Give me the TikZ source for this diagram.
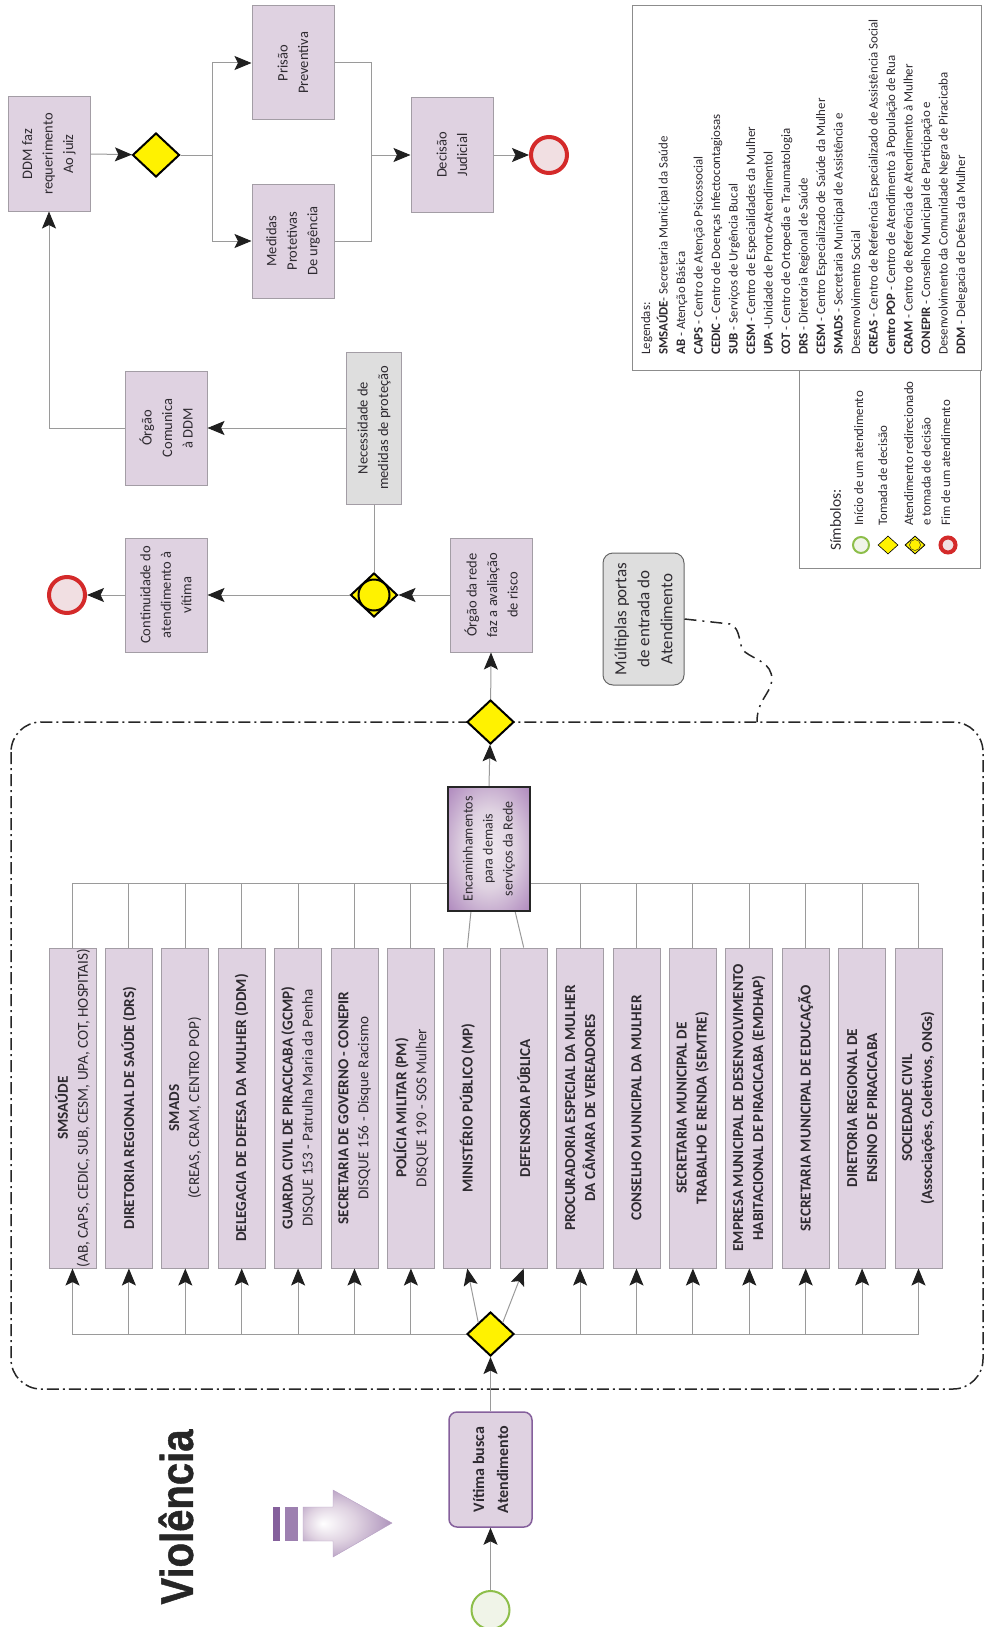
\documentclass[tikz,border=0pt]{standalone}
\usepackage{fontspec}
\setmainfont{Carlito}
\newfontfamily\titlefont[FakeStretch=0.87,FakeBold=1]{Liberation Sans Bold}
\usetikzlibrary{arrows.meta, shapes.geometric}
\definecolor{boxfill}{HTML}{DFD2E1}
\definecolor{boxline}{HTML}{A39DA5}
\definecolor{connline}{HTML}{9A9A9A}
\definecolor{greybox}{HTML}{DEDEDE}
\definecolor{darkpurple}{HTML}{85609C}
\definecolor{inktext}{HTML}{2E2A30}
\definecolor{endred}{HTML}{D42A2A}
\definecolor{endfill}{HTML}{F1DFE2}
\definecolor{startgreen}{HTML}{8DBE4A}
\definecolor{startfill}{HTML}{F0F4E8}
\definecolor{enclight}{HTML}{F0EAF0}
\definecolor{encmid}{HTML}{AD86BC}
\pgfdeclareradialshading{encshade}{\pgfpoint{0bp}{0bp}}{color(0bp)=(enclight); color(16bp)=(boxfill); color(36bp)=(encmid); color(52bp)=(darkpurple)}
\pgfdeclareradialshading{blockshade}{\pgfpoint{-14bp}{0bp}}{color(0bp)=(white); color(14bp)=(boxfill); color(42bp)=(darkpurple)}
\tikzset{
x=1pt, y=-1pt,
conn/.style={draw=connline, line width=1pt}, % plain connector
arrow/.style={conn, ->, >={Stealth[length=17pt,width=14pt,inset=3.5pt,color=black!88]}}, % big dark arrow heads
procbox/.style={draw=boxline, fill=boxfill, line width=1pt, rotate=90, align=center, text=inktext, minimum width=114pt, minimum height=82pt, inner sep=0pt, font=\fontsize{14.5}{20.5}\selectfont},
servbox/.style={procbox, minimum width=320pt, minimum height=47pt, font=\fontsize{15.2}{20}\selectfont},
decision/.style={diamond, draw=black, fill=yellow, line width=2pt, minimum width=47pt, minimum height=44pt, inner sep=0pt},
endstate/.style={circle, draw=endred, fill=endfill, line width=4pt, minimum size=36pt, inner sep=0pt},
startstate/.style={circle, draw=startgreen, fill=startfill, line width=2pt, minimum size=38pt, inner sep=0pt},
panel/.style={draw=black!45, fill=white, line width=1pt, inner sep=0pt},
legtext/.style={rotate=90, inner sep=0pt, align=left, text=inktext, anchor=north west, font=\fontsize{12.9}{17.5}\selectfont},
}
\begin{document}
\begin{tikzpicture}
    \useasboundingbox (0,0) rectangle (984,1627);
    % network frame
    \draw[black!85, line width=1.5pt, dash pattern=on 12pt off 4pt on 2pt off 4pt, rounded corners=30pt] (11,722) rectangle (983,1389);
    \coordinate (frametop) at (757,722);

    % right column with the two key panels
    \node[panel, minimum width=349pt, minimum height=365pt] (legbox) at (806.5,188) {};
    \node[panel, minimum width=181pt, minimum height=198pt] (simbbox) at (889.5,469) {};
    \node[legtext] (legenda) at (641,355) {Legendas:\\
    \textbf{SMSAÚDE}- Secretaria Municipal da Saúde\\
    \textbf{AB} - Atenção Básica\\
    \textbf{CAPS} - Centro de Atenção Psicossocial\\
    \textbf{CEDIC} - Centro de Doenças Infectocontagiosas\\
    \textbf{SUB} - Serviços de Urgência Bucal\\
    \textbf{CESM} - Centro de Especialidades da Mulher\\
    \textbf{UPA} -Unidade de Pronto-Atendimentol\\
    \textbf{COT} - Centro de Ortopedia e Traumatologia\\
    \textbf{DRS} - Diretoria Regional de Saúde\\
    \textbf{CESM} - Centro Especializado de Saúde da Mulher\\
    \textbf{SMADS} - Secretaria Municipal de Assistência e\\
    Desenvolvimento Social\\
    \textbf{CREAS} - Centro de Referência Especializado de Assistência Social\\
    \textbf{Centro POP} - Centro de Atendimento à População de Rua\\
    \textbf{CRAM} - Centro de Referência de Atendimento à Mulher\\
    \textbf{CONEPIR} - Conselho Municipal de Participação e\\
    Desenvolvimento da Comunidade Negra de Piracicaba\\
    \textbf{DDM} - Delegacia de Defesa da Mulher};
    \node[legtext, font=\fontsize{15.5}{17.5}\selectfont] (simbtitle) at (830,551) {Símbolos:};
    \node[legtext] (simbinicio) at (854,526) {Início de um atendimento};
    \node[legtext] (simbtomada) at (878,526) {Tomada de decisão};
    \node[legtext] (simbredir) at (904,526) {Atendimento redirecionado\\e tomada de decisão};
    \node[legtext] (simbfim) at (941,526) {Fim de um atendimento};
    \node[startstate, minimum size=16pt] (keystart) at (861,545) {};
    \node[decision, line width=.6pt, minimum width=20pt, minimum height=18pt] (keydec) at (888,545) {};
    \node[decision, line width=.8pt, minimum width=20pt, minimum height=18pt] (keyredir) at (915,545) {};
    \node[circle, draw=black!80, fill=yellow, line width=.5pt, minimum size=11pt, inner sep=0pt] (keyredirc) at (915,545) {};
    \node[endstate, minimum size=15pt] (keyfim) at (948,545) {};

    % upper branch
    \node[procbox] (ddm) at (49,154) {DDM faz\\requerimento\\Ao juiz};
    \node[decision] (dtop) at (156,155) {};
    \node[procbox] (prisao) at (293,63) {Prisão\\Preventiva};
    \node[procbox] (medidas) at (293,241) {Medidas\\Protetivas\\De urgência};
    \node[procbox] (decisao) at (452,155) {Decisão\\Judicial};
    \node[endstate] (fimtop) at (549,155) {};
    \coordinate (dsplit) at (212,155);
    \coordinate (dmerge) at (371,155);
    \draw[arrow] (ddm.south) -- (dtop);
    \draw[conn] (dtop) -- (dsplit);
    \draw[arrow] (dsplit) |- (prisao.north);
    \draw[arrow] (dsplit) |- (medidas.north);
    \draw[conn] (prisao.south) -| (dmerge);
    \draw[conn] (medidas.south) -| (dmerge);
    \draw[arrow] (dmerge) -- (decisao.north);
    \draw[arrow] (decisao.south) -- (fimtop);

    % risk assessment
    \node[procbox] (orgao) at (166,428) {Órgão\\Comunica\\à DDM};
    \node[procbox, fill=greybox, minimum width=152pt, minimum height=55pt] (necess) at (374,428) {Necessidade de\\medidas de proteção};
    \node[procbox] (contin) at (166,595) {Continuidade do\\atendimento à\\vítima};
    \node[procbox] (rede) at (491,595) {Órgão da rede\\faz a avaliação\\de risco};
    \node[decision] (dredir) at (374,595) {};
    \node[circle, draw=black, fill=yellow, line width=2pt, minimum size=31pt, inner sep=0pt] (dredirc) at (374,595) {};
    \node[endstate] (fimcont) at (67,595) {};
    \node[procbox, fill=greybox, rounded corners=10pt, draw=black!60, minimum width=132pt, minimum height=81pt, font=\fontsize{17}{23}\selectfont] (multi) at (643.5,619) {Múltiplas portas\\de entrada do\\Atendimento};
    \node[decision] (dsaida) at (490.5,722) {};
    \draw[arrow] (orgao.north) -| (ddm.west);
    \draw[arrow] (necess.north) -- (orgao.south);
    \draw[conn] (necess.west) -- (dredir);
    \draw[arrow] (rede.north) -- (dredir);
    \draw[arrow] (dredir) -- (contin.south);
    \draw[arrow] (contin.north) -- (fimcont);
    \draw[arrow] (dsaida) -- (rede.west);
    \draw[black!85, line width=1.5pt, dash pattern=on 12pt off 6pt on 2pt off 6pt] (multi.south) -- (730,624) .. controls (742,628) and (738,648) .. (745,652) .. controls (755,660) and (772,662) .. (772,680) .. controls (770,695) and (757,700) .. (frametop);

    % entry point
    \node[startstate] (inicio) at (490.5,1610) {};
    \node[procbox, draw=darkpurple, line width=1.5pt, rounded corners=8pt, minimum width=115pt, minimum height=83pt, font=\bfseries\fontsize{16}{24}\selectfont] (vitima) at (490.5,1469.5) {Vítima busca\\Atendimento};
    \node[decision] (dporta) at (490.5,1334) {};
    \draw[arrow] (inicio) -- (vitima.west);
    \draw[arrow] (vitima.east) -- (dporta);

    % services of the network
    \node[servbox] (sb1) at (72.5,1108) {\textbf{SMSAÚDE}\\(AB, CAPS, CEDIC, SUB, CESM, UPA, COT, HOSPITAIS)};
    \node[servbox] (sb2) at (128.9,1108) {\textbf{DIRETORIA REGIONAL DE SAÚDE (DRS)}};
    \node[servbox] (sb3) at (185.3,1108) {\textbf{SMADS}\\(CREAS, CRAM, CENTRO POP)};
    \node[servbox] (sb4) at (241.7,1108) {\textbf{DELEGACIA DE DEFESA DA MULHER (DDM)}};
    \node[servbox] (sb5) at (298.1,1108) {\textbf{GUARDA CIVIL DE PIRACICABA (GCMP)}\\DISQUE 153 - Patrulha Maria da Penha};
    \node[servbox] (sb6) at (354.5,1108) {\textbf{SECRETARIA DE GOVERNO - CONEPIR}\\DISQUE 156 - Disque Racismo};
    \node[servbox] (sb7) at (410.9,1108) {\textbf{POLÍCIA MILITAR (PM)}\\DISQUE 190 - SOS Mulher};
    \node[servbox] (sb8) at (467.3,1108) {\textbf{MINISTÉRIO PÚBLICO (MP)}};
    \node[servbox] (sb9) at (523.7,1108) {\textbf{DEFENSORIA PÚBLICA}};
    \node[servbox] (sb10) at (580.1,1108) {\textbf{PROCURADORIA ESPECIAL DA MULHER}\\\textbf{DA CÂMARA DE VEREADORES}};
    \node[servbox] (sb11) at (636.5,1108) {\textbf{CONSELHO MUNICIPAL DA MULHER}};
    \node[servbox] (sb12) at (692.9,1108) {\textbf{SECRETARIA MUNICIPAL DE}\\\textbf{TRABALHO E RENDA (SEMTRE)}};
    \node[servbox] (sb13) at (749.3,1108) {\textbf{EMPRESA MUNICIPAL DE DESENVOLVIMENTO}\\\textbf{HABITACIONAL DE PIRACICABA (EMDHAP)}};
    \node[servbox] (sb14) at (805.7,1108) {\textbf{SECRETARIA MUNICIPAL DE EDUCAÇÃO}};
    \node[servbox] (sb15) at (862.1,1108) {\textbf{DIRETORIA REGIONAL DE}\\\textbf{ENSINO DE PIRACICABA}};
    \node[servbox] (sb16) at (918.5,1108) {\textbf{SOCIEDADE CIVIL}\\\textbf{(Associações, Coletivos, ONGs)}};

    % from the gateway up to the services
    \draw[arrow] (dporta) -| (sb1.west);
    \draw[arrow] (dporta) -| (sb2.west);
    \draw[arrow] (dporta) -| (sb3.west);
    \draw[arrow] (dporta) -| (sb4.west);
    \draw[arrow] (dporta) -| (sb5.west);
    \draw[arrow] (dporta) -| (sb6.west);
    \draw[arrow] (dporta) -| (sb7.west);
    \draw[arrow] (dporta.north west) -- (sb8.west);
    \draw[arrow] (dporta.north east) -- (sb9.west);
    \draw[arrow] (dporta) -| (sb10.west);
    \draw[arrow] (dporta) -| (sb11.west);
    \draw[arrow] (dporta) -| (sb12.west);
    \draw[arrow] (dporta) -| (sb13.west);
    \draw[arrow] (dporta) -| (sb14.west);
    \draw[arrow] (dporta) -| (sb15.west);
    \draw[arrow] (dporta) -| (sb16.west);

    % from the services to the referrals box
    \coordinate (bustop) at (490.5,883);
    \coordinate (encleft) at (471,911);
    \coordinate (encright) at (515,911);
    \draw[conn] (sb1.east) |- (bustop);
    \draw[conn] (sb2.east) |- (bustop);
    \draw[conn] (sb3.east) |- (bustop);
    \draw[conn] (sb4.east) |- (bustop);
    \draw[conn] (sb5.east) |- (bustop);
    \draw[conn] (sb6.east) |- (bustop);
    \draw[conn] (sb7.east) |- (bustop);
    \draw[conn] (sb8.east) -- (encleft);
    \draw[conn] (sb9.east) -- (encright);
    \draw[conn] (sb10.east) |- (bustop);
    \draw[conn] (sb11.east) |- (bustop);
    \draw[conn] (sb12.east) |- (bustop);
    \draw[conn] (sb13.east) |- (bustop);
    \draw[conn] (sb14.east) |- (bustop);
    \draw[conn] (sb15.east) |- (bustop);
    \draw[conn] (sb16.east) |- (bustop);
    \node[procbox, draw=black!85, line width=2.2pt, shading=encshade, minimum width=124pt, minimum height=82pt, font=\fontsize{14}{20}\selectfont] (encam) at (489,849) {Encaminhamentos\\para demais\\serviços da Rede};
    \draw[arrow] (encam.east) -- (dsaida);

    % title with its block arrow
    \node[rotate=90, inner sep=0pt, text=black!85, font=\titlefont\fontsize{46}{46}\selectfont] (titulo) at (176,1517) {Violência};
    \fill[darkpurple] (273,1507) rectangle (280,1541);
    \fill[darkpurple!80] (285,1507) rectangle (298,1541);
    \shade[shading=blockshade, draw=darkpurple!60] (303,1507) -- (333,1507) -- (333,1490) -- (392,1523) -- (333,1557) -- (333,1541) -- (303,1541) -- cycle;
\end{tikzpicture}
\end{document}
